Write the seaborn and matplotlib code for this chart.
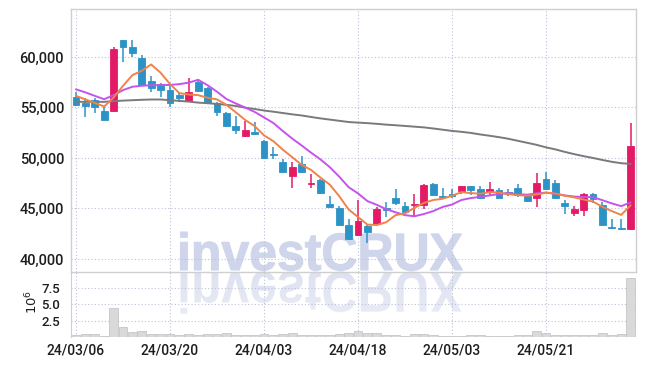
import numpy as np
import pandas as pd
import seaborn as sns
import matplotlib
matplotlib.use('Agg')
import matplotlib.pyplot as plt
from matplotlib.textpath import TextPath
from matplotlib.font_manager import FontProperties
from matplotlib.patches import PathPatch
from matplotlib.transforms import Affine2D

# trading days 2024-03-06 .. 2024-06-03 (KRX holidays removed)
days = pd.bdate_range('2024-03-06', '2024-06-03')
holidays = pd.to_datetime(['2024-04-10', '2024-05-01', '2024-05-06', '2024-05-15'])
days = days[~days.isin(holidays)]
tick_pos = [0, 10, 20, 30, 40, 50]

opens = [56000, 55400, 55700, 54700, 54700, 61700, 61000, 59900, 57600, 57300,
         56700, 56200, 55600, 57500, 56900, 55400, 54500, 53200, 52200, 52600,
         51700, 50400, 49600, 48200, 49400, 47400, 47800, 45400, 45000, 43400,
         42400, 43300, 43500, 45000, 46000, 45200, 45300, 45300, 47400, 46200,
         46400, 46700, 47200, 46900, 46600, 46800, 46600, 47000, 46200, 46000,
         47900, 47500, 45500, 44600, 44800, 46400, 45300, 43200, 43100, 43000]
highs = [56500, 55900, 55900, 55100, 61000, 61700, 61700, 60200, 58100, 57400,
         57400, 56500, 57900, 57700, 57000, 55500, 54600, 54200, 53700, 53600,
         51800, 51100, 49900, 49600, 50200, 48400, 47900, 46200, 45200, 44000,
         45800, 43400, 45100, 45600, 46900, 45600, 46400, 47400, 47500, 47000,
         46900, 47200, 47200, 47200, 47600, 47000, 46900, 47400, 46300, 48500,
         48600, 47800, 45800, 45200, 46500, 46500, 45600, 44000, 44000, 53500]
lows = [55100, 54100, 54500, 53800, 54600, 59500, 60000, 57100, 56500, 56000,
        55000, 55500, 55500, 56500, 55300, 54200, 53100, 52400, 52100, 52300,
        49900, 49900, 48500, 47000, 48500, 47000, 46400, 45000, 43300, 41900,
        42300, 41600, 43400, 44200, 45300, 44600, 44200, 44900, 46200, 46000,
        46000, 46400, 46300, 45900, 46300, 46000, 46200, 46100, 45600, 45100,
        46800, 45900, 44500, 44300, 44300, 45500, 43400, 43000, 42900, 42900]
closes = [55200, 55100, 55000, 53800, 60800, 61000, 60400, 57200, 56900, 56700,
          55400, 55900, 56500, 56600, 55400, 54600, 53200, 52800, 52800, 52400,
          50000, 50300, 48600, 49100, 48600, 47500, 46500, 45100, 43400, 42000,
          43800, 42700, 44900, 44800, 45500, 44700, 45400, 47300, 46300, 46100,
          46200, 47200, 46800, 46000, 46900, 46000, 46400, 46300, 45700, 47500,
          46900, 46000, 45200, 44900, 46400, 45900, 43400, 43100, 43000, 51200]
# volume in millions of shares
volume = [0.3, 0.4, 0.4, 0.2, 4.35, 1.45, 0.75, 0.9, 0.45, 0.4,
          0.45, 0.25, 0.45, 0.25, 0.45, 0.45, 0.6, 0.25, 0.25, 0.25,
          0.45, 0.25, 0.45, 0.6, 0.3, 0.3, 0.3, 0.3, 0.45, 0.6,
          0.9, 0.6, 0.6, 0.3, 0.25, 0.2, 0.45, 0.45, 0.25, 0.2,
          0.15, 0.15, 0.25, 0.25, 0.15, 0.15, 0.15, 0.25, 0.25, 0.9,
          0.55, 0.35, 0.25, 0.25, 0.25, 0.25, 0.6, 0.25, 0.45, 8.9]
ma5 = [56150, 55800, 55450, 55100, 55980, 57140, 58200, 58640, 59260, 58440,
       57320, 56420, 56280, 56220, 55960, 55800, 55260, 54520, 53760, 53160,
       52240, 51660, 50820, 50080, 49320, 48820, 48060, 47360, 46220, 44900,
       44160, 43400, 43360, 43640, 44340, 44520, 45060, 45540, 45840, 45960,
       46260, 46620, 46520, 46460, 46620, 46580, 46420, 46320, 46260, 46380,
       46560, 46480, 46260, 46100, 45880, 45680, 45160, 44740, 44360, 45320]
ma10 = [56790, 56500, 56150, 55820, 56220, 56720, 57050, 57150, 57200, 57210,
        57230, 57310, 57460, 57740, 57200, 56560, 55840, 55400, 54990, 54560,
        54020, 53460, 52670, 51920, 51240, 50530, 49860, 49090, 48150, 47110,
        46490, 45730, 45360, 44930, 44620, 44340, 44230, 44450, 44740, 45150,
        45390, 45840, 46030, 46150, 46290, 46420, 46520, 46420, 46360, 46500,
        46570, 46450, 46290, 46180, 46130, 46120, 45820, 45500, 45230, 45600]
ma_long = [55560, 55560, 55550, 55560, 55620, 55680, 55720, 55760, 55790, 55790,
           55720, 55650, 55580, 55480, 55420, 55350, 55260, 55150, 54980, 54850,
           54700, 54580, 54450, 54320, 54210, 54060, 53920, 53800, 53680, 53560,
           53500, 53450, 53380, 53300, 53240, 53170, 53100, 53030, 52920, 52800,
           52680, 52590, 52480, 52330, 52200, 52060, 51900, 51700, 51500, 51300,
           51050, 50850, 50600, 50380, 50180, 50000, 49800, 49620, 49480, 49420]

up_col = '#e31b67'
down_col = '#2c93c6'
grid_col = '#bcc1d8'
spine_col = '#cfcfcf'
txt_col = '#1e1e1e'
wm_col = '#cfd5ea'

sns.set_style('white')
plt.rcParams['font.family'] = ['Roboto', 'DejaVu Sans']

fig = plt.figure(figsize=(6.45, 3.66), dpi=100)
W, H = 645, 366

# background axes for the watermark, in pixel coords
bg = fig.add_axes([0, 0, 1, 1], zorder=0)
bg.set_xlim(0, W)
bg.set_ylim(H, 0)
bg.axis('off')

ax = fig.add_axes([71 / W, (H - 272) / H, 565 / W, 263 / H], zorder=1)
axv = fig.add_axes([71 / W, (H - 337) / H, 565 / W, 65 / H], zorder=1)
ax.set_facecolor('none')
axv.set_facecolor('none')

# watermark + reflection
tp = TextPath((0, 0), 'investCRUX', size=1,
              prop=FontProperties(family='Liberation Sans', weight='bold'))
bb = tp.get_extents()
sx = 282 / bb.width
sy = 38 / bb.y1
front = Affine2D().translate(-bb.x0, 0).scale(sx, -sy).translate(180.5, 270)
bg.add_patch(PathPatch(front.transform_path(tp), facecolor=wm_col,
                       edgecolor=wm_col, linewidth=0.8))
back = Affine2D().translate(-bb.x0, 0).scale(sx, sy * 1.1).translate(180.5, 272)
refl = PathPatch(back.transform_path(tp), facecolor='none', edgecolor='none')
bg.add_patch(refl)
grad = np.zeros((60, 1, 4))
grad[:, 0, :3] = matplotlib.colors.to_rgb(wm_col)
grad[:, 0, 3] = np.linspace(0.7, 0.45, 60)
im = bg.imshow(grad, extent=(175, 470, 316, 271), aspect='auto', origin='upper')
im.set_clip_path(refl)
bg.set_xlim(0, W)
bg.set_ylim(H, 0)

idx = np.arange(len(closes))
o = np.array(opens)
c = np.array(closes)
cols = [up_col if cc >= oo else down_col for oo, cc in zip(o, c)]

# candles
ax.vlines(idx, lows, highs, colors=cols, linewidth=1.1, zorder=2)
ax.bar(idx, np.abs(c - o), bottom=np.minimum(o, c), width=0.72, color=cols,
       edgecolor=cols, linewidth=0.6, zorder=3)

# moving averages
sns.lineplot(x=idx, y=ma_long, ax=ax, color='#7a7a7a', linewidth=1.4, zorder=4)
sns.lineplot(x=idx, y=ma10, ax=ax, color='#c653ec', linewidth=1.4, zorder=4)
sns.lineplot(x=idx, y=ma5, ax=ax, color='#f0824a', linewidth=1.4, zorder=5)

ax.set_xlim(-0.53, len(closes) - 0.43)
ax.set_ylim(38710, 64750)
ax.set_yticks([40000, 45000, 50000, 55000, 60000])
ax.set_yticklabels([f'{v:,}' for v in [40000, 45000, 50000, 55000, 60000]],
                   fontweight='medium')
ax.set_xticks(tick_pos)
ax.tick_params(axis='x', labelbottom=False, length=0)
ax.tick_params(axis='y', length=0, pad=5, labelsize=10.5, labelcolor=txt_col)
ax.grid(True, linestyle=(0, (1, 2)), color=grid_col, linewidth=0.8)
ax.set_axisbelow(True)
for s in ax.spines.values():
    s.set_color(spine_col)
    s.set_linewidth(1)
ax.set_xlabel('')
ax.set_ylabel('')

# volume
sns.barplot(x=idx, y=volume, ax=axv, color='#d9d9d9', edgecolor='#bfbfbf',
            linewidth=0.5, width=0.92, saturation=1, zorder=2)
axv.set_xlim(-0.53, len(closes) - 0.43)
axv.set_ylim(0, 9.85)
axv.set_yticks([2.5, 5.0, 7.5])
axv.set_yticklabels(['2.5', '5.0', '7.5'], fontweight='medium')
axv.set_xticks(tick_pos)
axv.set_xticklabels([days[i].strftime('%y/%m/%d') for i in tick_pos],
                    fontweight='medium')
axv.tick_params(axis='x', length=0, pad=5, labelsize=10, labelcolor=txt_col)
axv.tick_params(axis='y', length=0, pad=8, labelsize=9.5, labelcolor=txt_col)
axv.grid(True, linestyle=(0, (1, 2)), color=grid_col, linewidth=0.8)
axv.set_axisbelow(True)
axv.spines['top'].set_visible(False)
axv.spines['right'].set_visible(False)
axv.spines['bottom'].set_visible(False)
axv.spines['left'].set_color(spine_col)
axv.set_xlabel('')
axv.set_ylabel('')

fig.text(32 / W, 1 - 302 / H, r'$10^6$', rotation=90, ha='center', va='center',
         fontsize=9.5, color=txt_col)

fig.savefig('out.png', dpi=100, facecolor='white')
